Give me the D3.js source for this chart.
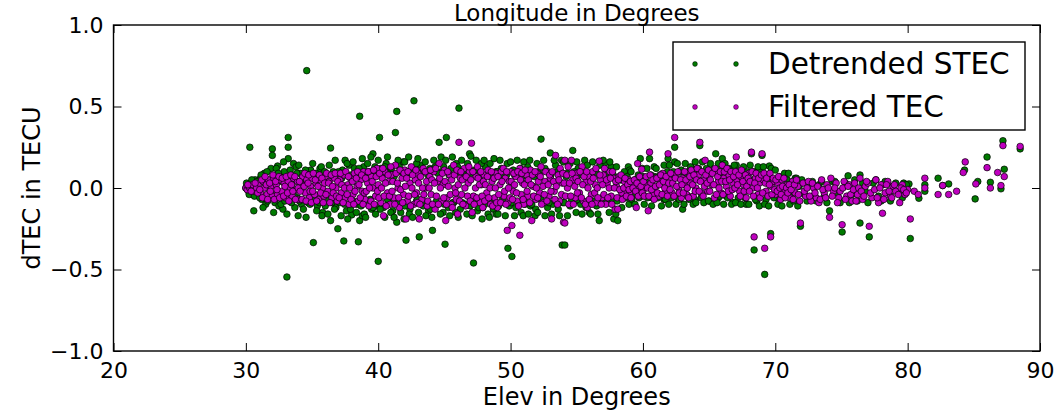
<!DOCTYPE html>
<html>
<head>
<meta charset="UTF-8">
<script src="https://cdn.jsdelivr.net/npm/d3@7"></script>
<style>
    body { margin: 0; background: #fff; font-family: "DejaVu Sans", sans-serif; }
    svg text { fill: #000; }
</style>
</head>
<body>
<div id="chart"></div>
<script>
// ticks
const xTicks = [20, 30, 40, 50, 60, 70, 80, 90];
const yTicks = [-1.0, -0.5, 0.0, 0.5, 1.0];

// Detrended STEC: [elevation, dTEC]
const stec = [
    // spread and outliers
    [30.0,0.0],[30.1,0.02],[30.2,-0.02],[30.3,0.25],[30.4,0.03],[30.5,-0.04],[30.6,-0.14],[30.7,0.05],[30.9,-0.01],
    [31.1,0.06],[31.2,-0.07],[31.4,0.09],[31.5,-0.10],[31.7,0.04],[31.8,-0.05],[31.9,0.12],
    [32.0,0.24],[32.0,0.2],[32.2,-0.09],[32.4,0.135],[32.5,-0.11],[32.6,0.07],[32.8,-0.13],[32.9,0.1],
    [33.1,-0.546],[33.2,0.31],[33.2,0.25],[33.2,0.18],[33.3,-0.08],[33.4,0.08],[33.6,0.15],[33.7,-0.12],[33.8,0.13],[33.9,-0.06],
    [34.1,0.09],[34.2,-0.1],[34.4,0.05],[34.6,0.72],[34.7,-0.09],[34.9,0.11],
    [35.1,-0.335],[35.2,0.08],[35.4,-0.11],[35.6,0.12],[35.8,-0.15],[35.9,0.06],
    [36.1,-0.07],[36.4,0.245],[36.4,-0.2],[36.6,0.1],[36.8,-0.12],[36.95,-0.25],[36.9,0.09],
    [37.1,-0.09],[37.3,0.11],[37.4,-0.325],[37.5,0.17],[37.6,-0.14],[37.8,0.14],[37.9,-0.06],
    [38.0,-0.165],[38.2,0.12],[38.4,-0.1],[38.5,-0.33],[38.6,0.44],[38.6,-0.2],[38.8,-0.17],[38.9,0.13],
    [39.1,-0.08],[39.3,0.1],[39.5,-0.13],[39.6,0.21],[39.8,0.09],[39.9,-0.11],
    [40.0,-0.45],[40.1,0.31],[40.2,0.12],[40.4,-0.12],[40.6,0.15],[40.8,-0.09],[40.9,0.11],
    [41.1,-0.14],[41.3,0.34],[41.4,0.47],[41.4,-0.21],[41.6,0.13],[41.8,-0.1],[41.9,0.16],
    [42.1,-0.32],[42.2,0.09],[42.4,-0.13],[42.7,0.535],[42.8,0.12],[42.9,-0.08],
    [43.1,-0.3],[43.2,0.14],[43.4,-0.11],[43.6,0.1],[43.8,-0.14],[43.9,0.12],
    [44.1,-0.26],[44.3,0.13],[44.6,0.28],[44.5,-0.1],[44.8,0.1],[44.9,-0.15],
    [45.05,-0.345],[45.15,0.31],[45.3,-0.12],[45.5,0.12],[45.7,-0.09],[45.9,0.15],
    [46.1,0.49],[46.2,-0.13],[46.4,0.1],[46.6,-0.1],[46.9,0.21],[47.0,0.195],
    [47.2,-0.46],[47.3,0.11],[47.5,-0.14],[47.7,0.09],[47.9,-0.12],
    [48.1,0.13],[48.3,-0.16],[48.5,0.08],[48.7,-0.13],[48.9,0.1],
    [49.1,-0.11],[49.3,0.12],[49.5,-0.09],[49.8,-0.37],[49.7,0.08],
    [50.1,-0.42],[50.2,0.11],[50.4,-0.12],[50.6,0.1],[50.8,-0.15],[50.9,0.07],
    [51.1,-0.1],[51.3,0.13],[51.5,-0.11],[51.7,0.09],[51.9,-0.13],
    [52.1,0.1],[52.3,0.3],[52.4,-0.09],[52.6,0.12],[52.8,-0.12],
    [53.0,0.215],[53.2,-0.1],[53.4,0.14],[53.6,-0.13],[53.9,-0.35],[53.8,0.1],
    [54.1,-0.35],[54.3,0.09],[54.5,-0.11],[54.7,0.23],[54.9,-0.08],
    [55.1,0.12],[55.3,-0.1],[55.5,0.09],[55.7,-0.12],[55.9,0.08],
    [56.1,-0.09],[56.3,0.1],[56.5,-0.11],[56.7,-0.2],[56.8,0.07],
    [57.1,0.15],[57.3,-0.08],[57.6,0.13],[57.8,-0.19],[57.9,0.06],
    [58.1,-0.2],[58.3,0.05],[58.5,-0.06],[58.9,0.13],[59.0,0.11],
    [59.2,-0.04],[59.5,0.05],[59.8,0.18],[59.9,-0.05],
    [60.2,0.04],[60.5,0.18],[60.7,-0.06],[60.9,0.07],
    [61.1,-0.04],[61.4,0.08],[61.6,-0.07],[61.9,0.18],
    [62.1,0.06],[62.4,0.25],[62.4,0.16],[62.6,-0.06],[62.8,0.1],
    [63.0,-0.13],[63.2,0.09],[63.4,-0.05],[63.7,0.12],[63.9,-0.07],
    [64.1,0.1],[64.3,0.26],[64.5,-0.04],[64.8,0.09],
    [65.0,-0.08],[65.2,0.11],[65.5,0.21],[65.7,-0.06],[65.9,0.08],
    [66.0,0.18],[66.3,-0.05],[66.5,0.12],[66.8,-0.09],
    [67.05,0.14],[67.2,-0.06],[67.5,0.08],[67.8,-0.1],
    [68.2,0.21],[68.4,-0.38],[68.3,0.05],[68.6,-0.08],[68.9,0.1],
    [69.0,0.2],[69.2,-0.53],[69.3,-0.07],[69.55,0.135],[69.65,-0.28],[69.8,0.04],
    [70.1,-0.06],[70.3,0.07],[70.6,-0.04],[70.9,0.05],
    [71.2,-0.05],[71.5,0.06],[71.9,-0.235],[71.8,0.01],
    [72.2,-0.04],[72.6,0.03],[72.9,-0.06],
    [73.3,0.02],[73.7,-0.05],[74.1,-0.14],
    [74.3,0.04],[74.7,-0.03],
    [75.05,-0.27],[75.5,0.075],[75.8,-0.04],
    [76.4,0.08],[76.4,-0.215],[76.8,-0.02],
    [77.1,-0.3],[77.4,0.03],[77.8,-0.05],
    [78.1,0.02],[78.5,-0.03],[78.9,0.01],
    [79.4,-0.02],[79.7,0.03],
    [80.1,0.025],[80.2,-0.31],[80.85,-0.063],
    [81.3,0.02],[81.3,-0.02],
    [82.3,0.06],[82.65,0.015],[83.1,0.025],
    [84.3,0.11],
    [85.1,-0.067],[85.3,0.04],
    [86.0,0.19],[86.25,0.035],[87.05,-0.005],[87.2,0.29],[87.3,0.115],[88.5,0.24],
    // dense band
    [30.05,0.03],[30.25,-0.04],[30.45,0.05],[30.65,-0.05],[30.85,0.04],
    [31.05,-0.06],[31.15,0.08],[31.3,-0.12],[31.35,0.05],[31.6,0.1],[31.65,-0.08],[31.95,-0.04],
    [32.05,0.07],[32.1,-0.15],[32.3,0.12],[32.35,-0.06],[32.45,0.09],[32.65,-0.1],[32.7,0.04],[32.85,0.16],[32.95,-0.08],
    [33.0,0.06],[33.1,-0.16],[33.35,0.11],[33.45,-0.09],[33.5,0.03],[33.65,-0.05],[33.85,0.09],[33.95,-0.17],
    [34.0,0.14],[34.05,-0.08],[34.3,0.06],[34.35,-0.13],[34.5,0.11],[34.55,-0.18],[34.8,0.08],[34.85,-0.1],
    [35.0,-0.06],[35.05,0.15],[35.3,0.09],[35.35,-0.14],[35.5,0.05],[35.55,-0.09],[35.7,0.13],[35.75,-0.17],[35.95,0.1],
    [36.0,-0.11],[36.05,0.04],[36.2,-0.16],[36.3,0.14],[36.5,-0.09],[36.55,0.07],[36.7,-0.13],[36.75,0.17],[36.95,-0.06],
    [37.0,0.1],[37.2,-0.17],[37.25,0.06],[37.45,-0.1],[37.65,0.15],[37.7,-0.19],[37.95,0.08],[37.9,-0.13],
    [38.1,0.16],[38.1,-0.08],[38.3,0.07],[38.35,-0.15],[38.55,0.12],[38.7,-0.11],[38.8,0.18],[38.95,-0.16],
    [39.0,0.09],[39.05,-0.18],[39.2,0.15],[39.4,-0.07],[39.45,0.19],[39.6,-0.12],[39.75,0.13],[39.8,-0.16],
    [40.0,0.17],[40.15,-0.13],[40.3,0.08],[40.5,-0.18],[40.5,0.13],[40.7,-0.07],[40.7,0.19],[40.95,-0.15],
    [41.0,0.12],[41.2,-0.18],[41.2,0.07],[41.45,-0.09],[41.5,0.17],[41.7,-0.15],[41.75,0.1],[41.95,-0.19],
    [42.0,0.16],[42.0,-0.11],[42.3,0.19],[42.35,-0.16],[42.55,0.09],[42.6,-0.18],[42.9,0.15],[42.95,-0.07],
    [43.0,0.18],[43.05,-0.15],[43.3,0.1],[43.3,-0.09],[43.55,0.16],[43.6,-0.17],[43.75,0.08],[43.95,-0.13],
    [44.0,0.11],[44.05,-0.18],[44.2,0.17],[44.4,-0.08],[44.5,0.09],[44.7,-0.16],[44.75,0.19],[44.95,0.13],
    [45.0,-0.1],[45.1,0.17],[45.35,0.08],[45.4,-0.17],[45.6,0.19],[45.65,-0.09],[45.85,-0.15],[45.95,0.1],
    [46.0,0.13],[46.05,-0.18],[46.3,0.17],[46.35,-0.09],[46.5,0.08],[46.7,-0.16],[46.75,0.15],[46.95,-0.11],
    [47.05,0.09],[47.1,-0.17],[47.3,-0.08],[47.4,0.17],[47.6,-0.12],[47.65,0.07],[47.8,0.15],[47.85,-0.19],
    [48.0,0.17],[48.05,-0.1],[48.2,0.08],[48.4,-0.18],[48.45,0.15],[48.6,-0.09],[48.75,0.18],[48.9,-0.16],
    [49.0,0.1],[49.05,-0.16],[49.2,0.17],[49.4,-0.07],[49.45,0.08],[49.6,-0.17],[49.75,0.15],[49.9,-0.11],
    [50.0,0.16],[50.05,-0.09],[50.3,0.08],[50.3,-0.17],[50.5,0.17],[50.6,-0.1],[50.75,0.12],[50.95,-0.17],
    [51.0,0.16],[51.05,-0.07],[51.2,0.09],[51.35,-0.16],[51.45,0.17],[51.6,-0.1],[51.8,0.07],[51.85,-0.17],
    [52.0,0.15],[52.05,-0.15],[52.2,0.08],[52.3,-0.07],[52.5,0.17],[52.6,-0.17],[52.75,0.1],[52.9,-0.09],
    [53.05,0.08],[53.1,-0.16],[53.3,0.17],[53.4,-0.08],[53.55,0.1],[53.7,-0.17],[53.85,0.17],[53.95,-0.09],
    [54.0,0.16],[54.05,-0.09],[54.2,0.07],[54.3,-0.17],[54.5,0.15],[54.6,-0.08],[54.8,0.1],[54.95,-0.15],
    [55.0,0.16],[55.05,-0.07],[55.2,0.08],[55.4,-0.16],[55.6,0.17],[55.65,-0.09],[55.8,0.14],[55.95,-0.15],
    [56.0,0.07],[56.05,-0.16],[56.2,0.16],[56.35,-0.08],[56.5,0.09],[56.6,-0.16],[56.75,0.14],[56.9,-0.09],
    [57.0,0.17],[57.05,-0.08],[57.2,0.09],[57.45,-0.15],[57.5,0.16],[57.7,-0.08],[57.75,0.08],[57.95,-0.16],
    [58.0,0.13],[58.05,-0.08],[58.2,0.05],[58.4,-0.12],[58.6,0.1],[58.7,-0.06],[58.8,0.07],[58.95,-0.1],
    [59.1,0.1],[59.15,-0.07],[59.4,0.05],[59.4,-0.1],[59.65,0.08],[59.7,-0.06],[59.95,0.12],
    [60.0,0.07],[60.1,-0.1],[60.3,0.12],[60.35,-0.06],[60.6,0.08],[60.65,-0.11],[60.85,0.13],[60.95,-0.05],
    [61.0,0.12],[61.15,-0.06],[61.3,0.08],[61.4,-0.11],[61.6,0.14],[61.7,-0.07],[61.85,0.1],[61.95,-0.1],
    [62.0,0.14],[62.15,-0.06],[62.3,0.1],[62.5,-0.1],[62.6,0.15],[62.75,-0.07],[62.9,0.11],
    [63.1,-0.1],[63.2,0.15],[63.4,0.1],[63.5,-0.07],[63.6,0.13],[63.8,-0.1],[63.95,0.16],
    [64.0,-0.09],[64.2,0.12],[64.4,-0.06],[64.5,0.16],[64.6,-0.09],[64.8,0.12],[64.95,-0.08],
    [65.1,0.15],[65.3,-0.1],[65.4,0.11],[65.6,-0.09],[65.7,0.15],[65.8,-0.05],[65.95,0.12],
    [66.1,-0.1],[66.2,0.15],[66.4,-0.06],[66.6,0.11],[66.7,-0.1],[66.9,0.14],
    [67.0,-0.09],[67.2,0.1],[67.4,-0.1],[67.6,0.13],[67.7,-0.06],[67.9,0.1],
    [68.0,-0.1],[68.1,0.14],[68.4,0.1],[68.5,-0.07],[68.7,0.13],[68.8,-0.11],
    [69.1,0.13],[69.2,-0.1],[69.4,0.08],[69.5,-0.11],[69.7,0.12],[69.9,-0.06],
    [70.0,0.11],[70.2,-0.1],[70.4,0.06],[70.5,-0.11],[70.7,0.09],[70.8,-0.05],
    [71.0,0.09],[71.1,-0.1],[71.4,-0.08],[71.6,0.06],[71.7,-0.11],
    [72.0,0.05],[72.4,-0.08],[72.8,0.04],[73.1,-0.08],[73.5,0.04],[73.9,-0.09],[74.5,0.04],[74.9,-0.09],
    [75.3,0.03],[75.6,-0.09],[76.0,0.05],[76.2,-0.08],[76.6,0.03],[77.0,-0.09],[77.6,0.05],[78.0,-0.08],
    [78.3,0.04],[78.7,-0.08],[79.1,0.03],[79.6,-0.06],[79.9,0.02]
];

// Filtered TEC: [elevation, dTEC]
const filtered = [
    [30.0,0.0],[30.1,-0.01],[30.2,0.01],[30.3,0.0],[30.5,0.02],[30.6,-0.02],[30.8,0.0],
    [31.0,0.03],[31.1,-0.03],[31.3,0.04],[31.4,0.0],[31.6,-0.04],[31.7,0.05],[31.9,0.01],
    [32.0,-0.05],[32.1,0.06],[32.3,0.02],[32.4,-0.04],[32.6,0.05],[32.7,-0.02],[32.9,0.03],
    [33.0,-0.06],[33.2,0.04],[33.3,0.0],[33.5,-0.05],[33.6,0.06],[33.8,-0.01],[33.9,0.04],
    [34.0,-0.07],[34.2,0.02],[34.3,0.07],[34.5,-0.03],[34.6,0.05],[34.8,-0.06],[34.9,0.01],
    [35.0,0.06],[35.2,-0.04],[35.3,0.03],[35.5,-0.07],[35.6,0.05],[35.8,0.0],[35.9,-0.05],
    [36.0,0.07],[36.2,-0.02],[36.3,0.04],[36.5,-0.06],[36.7,0.06],[36.8,0.0],[36.9,-0.08],
    [37.1,0.05],[37.2,-0.03],[37.4,0.08],[37.5,-0.06],[37.7,0.02],[37.8,-0.1],[37.9,0.06],
    [38.1,-0.04],[38.2,0.09],[38.4,0.01],[38.5,-0.08],[38.7,0.05],[38.8,-0.02],[38.9,0.1],
    [39.0,-0.07],[39.2,0.03],[39.3,-0.11],[39.5,0.07],[39.6,0.0],[39.8,-0.05],[39.9,0.12],
    [40.0,0.02],[40.2,-0.09],[40.3,0.06],[40.4,-0.17],[40.5,0.1],[40.7,-0.03],[40.8,0.04],[40.9,-0.1],
    [41.0,0.08],[41.2,-0.06],[41.3,0.14],[41.5,0.0],[41.6,-0.12],[41.8,0.06],[41.9,-0.04],
    [42.0,0.11],[42.1,-0.19],[42.2,-0.08],[42.4,0.03],[42.5,0.13],[42.7,-0.1],[42.8,0.05],[42.9,-0.03],
    [43.0,0.09],[43.1,-0.19],[43.3,-0.07],[43.4,0.12],[43.6,0.0],[43.7,-0.11],[43.9,0.07],
    [44.0,-0.04],[44.2,0.1],[44.3,-0.13],[44.5,0.04],[44.6,0.15],[44.8,-0.08],[44.9,0.02],
    [45.0,0.11],[45.1,-0.2],[45.2,-0.06],[45.4,0.08],[45.5,-0.1],[45.7,0.14],[45.8,0.0],[45.9,-0.07],
    [46.0,-0.16],[46.1,0.28],[46.2,0.06],[46.3,-0.04],[46.5,0.12],[46.6,-0.11],[46.8,0.03],[46.9,0.1],
    [47.05,0.275],[47.1,-0.15],[47.2,-0.05],[47.4,0.07],[47.5,0.13],[47.7,-0.09],[47.8,0.02],[47.9,-0.12],
    [48.0,0.08],[48.2,-0.03],[48.3,0.11],[48.5,-0.1],[48.6,0.04],[48.8,-0.06],[48.9,0.09],
    [49.0,-0.12],[49.2,0.02],[49.3,0.1],[49.5,-0.05],[49.6,0.06],[49.75,-0.26],[49.8,-0.09],[49.9,0.04],
    [50.1,-0.23],[50.0,0.1],[50.2,-0.02],[50.4,0.07],[50.5,-0.08],[50.7,-0.29],[50.7,0.12],[50.8,-0.04],[50.9,0.03],
    [51.0,-0.1],[51.2,0.08],[51.3,-0.05],[51.5,0.11],[51.6,-0.2],[51.7,0.01],[51.9,-0.07],
    [52.0,0.09],[52.2,-0.03],[52.3,0.13],[52.5,-0.09],[52.6,0.04],[52.8,0.1],[52.9,-0.05],
    [53.0,0.06],[53.1,-0.19],[53.3,-0.02],[53.4,0.2],[53.6,0.08],[53.7,-0.08],[53.9,0.03],
    [54.0,-0.21],[54.1,0.17],[54.1,-0.215],[54.3,0.0],[54.4,-0.1],[54.6,0.17],[54.7,0.05],[54.9,-0.06],
    [55.0,0.09],[55.2,-0.03],[55.4,0.13],[55.5,-0.08],[55.7,0.04],[55.8,-0.12],[55.9,0.07],
    [56.1,-0.04],[56.2,0.1],[56.4,0.02],[56.5,-0.09],[56.7,0.165],[56.8,0.05],[56.9,-0.06],
    [57.0,0.08],[57.2,-0.1],[57.3,0.03],[57.5,0.1],[57.6,-0.05],[57.8,0.06],[57.9,-0.13],
    [58.1,-0.13],[58.0,0.01],[58.2,0.07],[58.4,-0.03],[58.6,0.04],[58.8,-0.02],[58.9,0.05],
    [59.0,-0.03],[59.2,0.03],[59.5,-0.12],[59.6,0.15],[59.7,0.0],[59.9,0.115],
    [60.0,-0.02],[60.2,0.02],[60.4,-0.14],[60.5,0.22],[60.6,0.03],[60.8,-0.04],[60.9,0.06],
    [61.0,0.01],[61.2,-0.05],[61.3,0.04],[61.5,0.09],[61.7,-0.02],[61.9,0.21],
    [62.0,0.05],[62.2,-0.03],[62.4,0.31],[62.5,0.08],[62.7,0.0],[62.9,-0.06],
    [63.0,0.06],[63.1,0.02],[63.3,-0.04],[63.5,0.09],[63.6,0.03],[63.8,-0.05],[63.9,0.07],
    [64.0,0.0],[64.2,0.08],[64.3,0.28],[64.4,-0.03],[64.6,0.05],[64.7,0.17],[64.9,-0.02],
    [65.0,0.07],[65.2,0.02],[65.4,-0.06],[65.5,0.1],[65.7,0.04],[65.9,-0.03],
    [66.0,0.14],[66.1,0.06],[66.3,0.01],[66.5,0.08],[66.6,-0.05],[66.8,0.03],
    [67.05,0.19],[67.1,0.05],[67.3,-0.02],[67.4,0.07],[67.6,0.02],[67.8,-0.06],[67.9,0.04],
    [68.0,0.09],[68.2,0.22],[68.3,0.0],[68.4,-0.3],[68.5,0.06],[68.7,-0.04],[68.8,0.03],
    [69.0,0.21],[69.1,0.05],[69.2,-0.37],[69.3,-0.02],[69.5,0.07],[69.65,-0.3],[69.7,0.01],[69.9,0.04],
    [70.0,-0.04],[70.2,0.03],[70.4,-0.07],[70.5,0.05],[70.7,-0.02],[70.9,0.02],
    [71.1,-0.06],[71.3,0.04],[71.5,-0.03],[71.7,0.01],[71.9,-0.215],
    [72.1,0.03],[72.3,-0.05],[72.5,0.04],[72.7,-0.08],[72.9,0.0],
    [73.1,-0.06],[73.3,-0.09],[73.5,0.05],[73.7,-0.03],[73.9,0.02],
    [74.1,-0.18],[74.2,0.06],[74.4,-0.02],[74.6,0.03],[74.8,-0.06],
    [75.05,-0.225],[75.2,0.04],[75.4,-0.05],[75.6,0.02],[75.8,-0.08],
    [76.0,0.03],[76.2,-0.04],[76.4,0.06],[76.6,-0.07],[76.8,0.01],
    [77.1,-0.235],[77.0,0.03],[77.3,-0.06],[77.6,0.05],[77.8,-0.09],
    [78.1,-0.155],[78.0,0.02],[78.3,-0.03],[78.5,0.04],[78.7,-0.05],[78.9,0.01],
    [79.1,-0.02],[79.4,-0.09],[79.6,0.02],[79.8,-0.04],
    [80.0,-0.01],[80.2,-0.19],[80.5,-0.02],[80.8,-0.04],
    [81.3,0.06],[81.3,0.0],
    [82.3,-0.04],[82.65,0.015],[83.1,-0.04],[83.7,-0.02],
    [84.2,0.095],[84.35,0.16],
    [85.15,0.025],[86.0,0.125],[86.25,0.0],[86.8,0.095],[87.05,0.015],[87.2,0.26],[87.3,0.07],[88.5,0.255],
    // dense band
    [30.15,0.02],[30.4,-0.02],[30.7,0.03],[30.9,-0.03],
    [31.05,-0.01],[31.2,0.05],[31.25,-0.06],[31.45,0.07],[31.55,0.02],[31.65,-0.07],[31.8,0.03],[31.85,-0.02],
    [32.05,0.08],[32.15,-0.07],[32.25,0.04],[32.35,-0.01],[32.5,0.07],[32.55,-0.06],[32.75,0.06],[32.85,-0.05],[32.95,0.01],
    [33.05,0.07],[33.15,-0.03],[33.25,-0.08],[33.4,0.08],[33.45,0.02],[33.55,-0.02],[33.7,0.07],[33.75,-0.07],[33.95,0.0],
    [34.05,0.04],[34.1,-0.02],[34.25,-0.07],[34.4,0.01],[34.45,0.09],[34.55,-0.08],[34.7,0.03],[34.75,0.08],[34.85,-0.02],[34.95,-0.09],
    [35.05,-0.02],[35.1,0.09],[35.25,0.05],[35.35,-0.08],[35.45,0.01],[35.55,0.08],[35.65,-0.03],[35.75,0.06],[35.85,-0.09],[35.95,0.03],
    [36.05,-0.04],[36.1,0.09],[36.25,0.03],[36.35,-0.09],[36.45,0.08],[36.55,0.01],[36.6,-0.03],[36.75,0.09],[36.85,-0.05],[36.95,0.04],
    [37.05,-0.06],[37.15,0.09],[37.25,0.02],[37.35,-0.09],[37.45,0.0],[37.55,0.1],[37.65,-0.04],[37.75,0.07],[37.85,0.0],[37.95,-0.07],
    [38.05,0.04],[38.15,-0.1],[38.25,-0.02],[38.35,0.06],[38.45,0.1],[38.55,0.02],[38.65,-0.06],[38.75,0.08],[38.85,-0.1],[38.95,-0.03],
    [39.05,0.06],[39.1,-0.02],[39.25,0.1],[39.35,0.0],[39.45,-0.08],[39.55,0.04],[39.65,0.11],[39.7,-0.1],[39.85,0.07],[39.95,-0.02],
    [40.05,-0.06],[40.1,0.09],[40.25,0.0],[40.35,0.12],[40.45,-0.05],[40.55,0.03],[40.6,-0.11],[40.75,0.08],[40.85,-0.05],[40.95,0.13],
    [41.05,-0.02],[41.1,0.04],[41.25,-0.1],[41.35,0.09],[41.45,0.03],[41.55,-0.06],[41.65,0.11],[41.7,-0.01],[41.85,-0.09],[41.95,0.09],
    [42.05,0.01],[42.15,0.06],[42.25,0.1],[42.3,-0.05],[42.45,-0.11],[42.55,0.0],[42.6,0.08],[42.75,-0.04],[42.85,0.11],[42.95,-0.09],
    [43.05,0.03],[43.15,-0.1],[43.2,0.07],[43.35,0.0],[43.45,-0.04],[43.55,0.1],[43.65,0.04],[43.75,-0.08],[43.85,0.0],[43.95,0.11],
    [44.05,0.05],[44.1,-0.1],[44.25,0.03],[44.35,0.12],[44.4,-0.05],[44.55,-0.1],[44.65,0.06],[44.7,0.0],[44.85,0.09],[44.95,-0.06],
    [45.05,0.04],[45.15,-0.1],[45.25,0.1],[45.3,0.01],[45.45,-0.04],[45.55,0.05],[45.6,-0.12],[45.75,0.08],[45.85,-0.03],[45.95,0.11],
    [46.05,0.02],[46.15,-0.08],[46.25,0.1],[46.35,0.05],[46.4,-0.1],[46.55,0.0],[46.65,0.07],[46.75,-0.05],[46.85,0.13],[46.95,-0.08],
    [47.0,0.05],[47.15,0.1],[47.25,-0.1],[47.35,0.0],[47.45,-0.06],[47.55,0.06],[47.65,0.02],[47.75,0.1],[47.85,-0.05],[47.95,0.04],
    [48.05,-0.08],[48.1,0.02],[48.25,0.07],[48.35,-0.06],[48.45,0.0],[48.55,0.1],[48.65,-0.11],[48.75,0.06],[48.85,0.0],[48.95,-0.09],
    [49.05,0.07],[49.1,-0.04],[49.25,-0.09],[49.35,0.04],[49.45,0.12],[49.55,-0.02],[49.65,-0.1],[49.7,0.1],[49.85,0.0],[49.95,-0.06],
    [50.05,0.04],[50.15,-0.07],[50.25,0.09],[50.3,0.02],[50.45,-0.03],[50.55,0.1],[50.6,-0.11],[50.75,0.05],[50.85,0.09],[50.95,-0.07],
    [51.05,0.02],[51.1,0.11],[51.25,-0.02],[51.35,0.05],[51.45,-0.09],[51.55,0.02],[51.65,0.08],[51.75,-0.05],[51.85,0.1],[51.95,0.0],
    [52.05,-0.06],[52.1,0.04],[52.25,0.07],[52.35,-0.1],[52.45,0.01],[52.55,-0.04],[52.65,0.1],[52.75,-0.08],[52.85,0.02],[52.95,0.08],
    [53.05,-0.02],[53.15,0.1],[53.25,0.04],[53.35,-0.07],[53.45,0.01],[53.55,-0.1],[53.65,0.05],[53.75,0.12],[53.85,-0.04],[53.95,0.09],
    [54.05,0.03],[54.15,-0.05],[54.25,0.08],[54.35,0.13],[54.45,0.03],[54.55,-0.05],[54.65,0.09],[54.75,-0.1],[54.85,0.01],[54.95,0.06],
    [55.05,-0.03],[55.1,0.04],[55.25,0.1],[55.35,-0.06],[55.45,0.02],[55.55,0.07],[55.65,-0.1],[55.75,0.1],[55.85,0.0],[55.95,-0.07],
    [56.05,0.04],[56.15,-0.1],[56.25,0.06],[56.35,-0.03],[56.45,0.12],[56.55,0.0],[56.6,-0.06],[56.75,0.08],[56.85,-0.1],[56.95,0.02],
    [57.05,-0.04],[57.1,0.12],[57.25,0.05],[57.35,-0.06],[57.45,0.0],[57.55,0.06],[57.65,-0.1],[57.7,0.1],[57.85,0.0],[57.95,0.04],
    [58.05,-0.06],[58.15,0.05],[58.25,-0.01],[58.35,0.08],[58.45,-0.07],[58.55,0.0],[58.65,0.06],[58.75,-0.05],[58.85,0.02],[58.95,-0.01],
    [59.05,0.04],[59.1,-0.06],[59.25,0.0],[59.35,0.05],[59.45,-0.02],[59.55,0.03],[59.65,-0.05],[59.75,0.07],[59.85,0.01],[59.95,-0.03],
    [60.05,0.04],[60.1,-0.05],[60.25,0.07],[60.35,0.0],[60.45,-0.05],[60.55,0.08],[60.65,-0.01],[60.75,0.05],[60.85,-0.07],[60.95,0.01],
    [61.05,0.06],[61.1,-0.03],[61.25,0.02],[61.35,0.08],[61.45,-0.04],[61.55,0.04],[61.65,0.0],[61.75,0.07],[61.85,-0.05],[61.95,0.03],
    [62.05,-0.01],[62.1,0.09],[62.25,0.03],[62.35,-0.05],[62.45,0.06],[62.55,0.01],[62.65,0.1],[62.75,-0.03],[62.85,0.05],[62.95,0.02],
    [63.05,-0.03],[63.15,0.1],[63.25,0.05],[63.35,0.0],[63.45,-0.06],[63.55,0.07],[63.65,0.11],[63.75,0.02],[63.85,0.08],[63.95,-0.02],
    [64.05,0.05],[64.1,0.12],[64.25,-0.02],[64.35,0.04],[64.45,0.1],[64.55,-0.05],[64.65,0.01],[64.75,0.08],[64.85,0.03],[64.95,0.11],
    [65.05,-0.02],[65.1,0.05],[65.25,0.09],[65.35,0.02],[65.45,0.12],[65.55,-0.04],[65.65,0.07],[65.75,0.0],[65.85,0.1],[65.95,0.04],
    [66.05,-0.04],[66.15,0.1],[66.25,0.04],[66.35,0.12],[66.45,-0.02],[66.55,0.05],[66.65,0.1],[66.75,-0.01],[66.85,0.07],[66.95,0.0],
    [67.0,0.1],[67.15,0.02],[67.25,0.08],[67.35,-0.05],[67.45,0.11],[67.55,0.04],[67.65,-0.02],[67.75,0.08],[67.85,0.01],[67.95,0.06],
    [68.05,-0.02],[68.1,0.04],[68.25,0.1],[68.35,-0.05],[68.45,0.03],[68.55,0.09],[68.65,0.0],[68.75,0.06],[68.85,-0.06],[68.95,0.08],
    [69.05,-0.03],[69.15,0.09],[69.25,0.03],[69.35,0.06],[69.45,-0.05],[69.55,0.02],[69.6,0.09],[69.75,-0.04],[69.85,0.06],[69.95,-0.01],
    [70.05,0.05],[70.15,-0.02],[70.25,0.07],[70.35,0.0],[70.45,-0.04],[70.55,0.01],[70.65,0.06],[70.75,-0.06],[70.85,0.0],[70.95,-0.03],
    [71.05,0.02],[71.2,-0.01],[71.35,-0.07],[71.45,0.02],[71.6,0.05],[71.75,-0.04],[71.85,-0.08],
    [72.2,-0.02],[72.4,0.0],[72.6,-0.05],[72.8,0.03],[73.0,-0.03],[73.2,0.01],[73.4,-0.07],[73.6,-0.01],[73.8,-0.06],
    [74.0,0.0],[74.3,-0.05],[74.5,0.0],[74.7,-0.09],[74.9,-0.02],[75.1,0.0],[75.3,-0.07],[75.5,0.01],[75.7,-0.04],
    [75.9,-0.01],[76.1,-0.08],[76.3,0.0],[76.5,-0.02],[76.7,-0.05],[76.9,0.04],[77.2,-0.03],[77.5,-0.01],[77.7,-0.06],
    [77.9,0.0],[78.2,-0.07],[78.4,0.02],[78.6,-0.02],[78.8,-0.06],[79.0,0.02],[79.3,-0.04],[79.5,0.0],[79.7,-0.01],[79.9,-0.03]
];

const seriesNames = ["Detrended STEC", "Filtered TEC"];
const seriesColors = ["#007a00", "#bf00bf"];

const W = 1055, H = 414;
const plot = {left: 113.5, right: 1040, top: 25, bottom: 351};

const svg = d3.select("#chart").append("svg")
    .attr("width", W)
    .attr("height", H);

const x = d3.scaleLinear().domain([20, 90]).range([plot.left, plot.right]);
const y = d3.scaleLinear().domain([-1, 1]).range([plot.bottom, plot.top]);

// axes, ticks pointing inward like old matplotlib
const fmt = d3.format(".1f");
const gx = svg.append("g")
    .attr("transform", `translate(0,${plot.bottom})`)
    .call(d3.axisBottom(x).tickValues(xTicks).tickSize(-8).tickPadding(11).tickFormat(d3.format("d")));
const gy = svg.append("g")
    .attr("transform", `translate(${plot.left},0)`)
    .call(d3.axisLeft(y).tickValues(yTicks).tickSize(-8).tickPadding(10).tickFormat(fmt));
const gt = svg.append("g")
    .attr("transform", `translate(0,${plot.top})`)
    .call(d3.axisTop(x).tickValues(xTicks).tickSize(-8).tickFormat(""));
const gr = svg.append("g")
    .attr("transform", `translate(${plot.right},0)`)
    .call(d3.axisRight(y).tickValues(yTicks).tickSize(-8).tickFormat(""));

[gx, gy, gt, gr].forEach(g => {
    g.select(".domain").remove();
    g.selectAll("line").attr("stroke", "#000").attr("stroke-width", 1);
    g.selectAll("text")
        .style("font-family", "DejaVu Sans")
        .style("font-size", "22px")
        .attr("fill", "#000");
});

// points: green first, magenta drawn over it
const pts = svg.append("g");
pts.selectAll(".stec")
    .data(stec)
    .enter()
    .append("circle")
    .attr("class", "stec")
    .attr("cx", d => x(d[0]))
    .attr("cy", d => y(d[1]))
    .attr("r", 3.3)
    .attr("fill", seriesColors[0])
    .attr("stroke", "#000")
    .attr("stroke-width", 0.7);

pts.selectAll(".filt")
    .data(filtered)
    .enter()
    .append("circle")
    .attr("class", "filt")
    .attr("cx", d => x(d[0]))
    .attr("cy", d => y(d[1]))
    .attr("r", 3.3)
    .attr("fill", seriesColors[1])
    .attr("stroke", "#000")
    .attr("stroke-width", 0.7);

// frame
svg.append("rect")
    .attr("x", plot.left)
    .attr("y", plot.top)
    .attr("width", plot.right - plot.left)
    .attr("height", plot.bottom - plot.top)
    .attr("fill", "none")
    .attr("stroke", "#000")
    .attr("stroke-width", 1.4);

// labels
svg.append("text")
    .attr("x", (plot.left + plot.right) / 2)
    .attr("y", 21)
    .attr("text-anchor", "middle")
    .style("font-size", "23px")
    .text("Longitude in Degrees");

svg.append("text")
    .attr("x", (plot.left + plot.right) / 2)
    .attr("y", 405)
    .attr("text-anchor", "middle")
    .style("font-size", "24px")
    .text("Elev in Degrees");

svg.append("text")
    .attr("transform", `translate(40,${(plot.top + plot.bottom) / 2}) rotate(-90)`)
    .attr("text-anchor", "middle")
    .style("font-size", "24px")
    .text("dTEC in TECU");

// legend
const leg = svg.append("g").attr("transform", "translate(673,42)");
leg.append("rect")
    .attr("width", 352)
    .attr("height", 88)
    .attr("fill", "#fff")
    .attr("stroke", "#000")
    .attr("stroke-width", 1.4);

seriesNames.forEach((name, i) => {
    const row = leg.append("g").attr("transform", `translate(0,${22 + i * 43})`);
    [22, 63].forEach(mx => {
        row.append("circle")
            .attr("cx", mx)
            .attr("cy", 0)
            .attr("r", 2.4)
            .attr("fill", seriesColors[i])
            .attr("stroke", "#000")
            .attr("stroke-width", 0.5);
    });
    row.append("text")
        .attr("x", 95)
        .attr("y", 10)
        .style("font-size", "29.5px")
        .text(name);
});
</script>
</body>
</html>
